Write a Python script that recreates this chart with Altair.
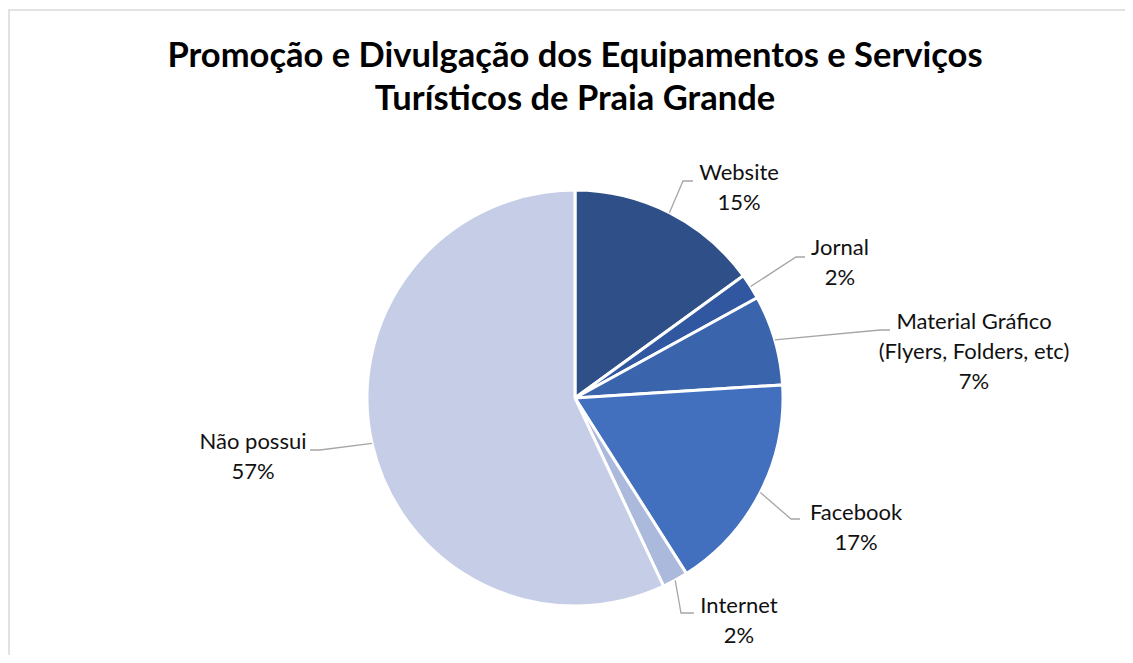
import altair as alt
import pandas as pd
import numpy as np

# ---------------- data ----------------
categories = ["Website", "Jornal", "Material Gráfico\n(Flyers, Folders, etc)",
              "Facebook", "Internet", "Não possui"]
values = [15, 2, 7, 17, 2, 57]
slice_colors = ["#2E4F87", "#3157A0", "#3A64AC", "#4270BF", "#ABB9DD", "#C6CEE7"]
title_lines = ["Promoção e Divulgação dos Equipamentos e Serviços",
               "Turísticos de Praia Grande"]

# ---------------- layout (pixel space centred on the pie, y up) ----------------
W, H = 1117, 647
CX, CY = 567, 390           # pie centre inside the plot area
R = 208
XS = alt.Scale(domain=[-CX, W - CX], range=[0, W], nice=False, zero=False)
YS = alt.Scale(domain=[CY - H, CY], range=[H, 0], nice=False, zero=False)

# leader line elbow / end, and label position (centre x, first line y)
LABEL_LAYOUT = {
    "Website":     dict(elbow=(108, 217), end=(118, 217), text=(164, 225)),
    "Jornal":      dict(elbow=(221, 141), end=(230, 141), text=(265, 150)),
    "Material":    dict(elbow=(305, 68),  end=(315, 68),  text=(399, 76)),
    "Facebook":    dict(elbow=(216, -121), end=(225, -121), text=(281, -115)),
    "Internet":    dict(elbow=(106, -215), end=(119, -215), text=(164, -208)),
    "Não possui":  dict(elbow=(-255, -52), end=(-265, -52), text=(-322, -44)),
}
layout_keys = ["Website", "Jornal", "Material", "Facebook", "Internet", "Não possui"]

pie_df = pd.DataFrame({"cat": categories, "value": values,
                       "order": list(range(len(values)))})

cum = np.cumsum(values)
tot = float(sum(values))
line_rows, label_rows = [], []
for i, (c, v) in enumerate(zip(categories, values)):
    mid = (cum[i] - v / 2) / tot * 2 * np.pi
    ex, ey = R * np.sin(mid), R * np.cos(mid)
    lay = LABEL_LAYOUT[layout_keys[i]]
    pts = [(ex, ey), lay["elbow"], lay["end"]]
    for k, (px, py) in enumerate(pts):
        line_rows.append({"cat": c, "k": k, "x": px, "y": py})
    pct = round(v / tot * 100)
    label_rows.append({"cat": c, "x": lay["text"][0], "y": lay["text"][1],
                       "label": f"{c}\n{pct}%"})
lines_df = pd.DataFrame(line_rows)
labels_df = pd.DataFrame(label_rows)

title_df = pd.DataFrame({"x": [0], "y": [341], "t": ["\n".join(title_lines)]})
border_df = pd.DataFrame({"x": [-566, -566, W - CX], "y": [CY - H, CY - 2, CY - 2],
                          "k": [0, 1, 2]})

pie = alt.Chart(pie_df).mark_arc(outerRadius=R, stroke="white", strokeWidth=3).encode(
    theta=alt.Theta("value:Q", stack=True),
    order=alt.Order("order:Q"),
    color=alt.Color("cat:N", scale=alt.Scale(domain=categories, range=slice_colors),
                    legend=None),
    x=alt.datum(0, scale=XS, axis=None),
    y=alt.datum(0, scale=YS, axis=None),
)

leaders = alt.Chart(lines_df).mark_line(color="#A6A6A6", strokeWidth=1.3).encode(
    x=alt.X("x:Q", scale=XS, axis=None),
    y=alt.Y("y:Q", scale=YS, axis=None),
    detail="cat:N",
    order="k:Q",
)

labels = alt.Chart(labels_df).mark_text(
    font="Lato", fontSize=22, color="#111111", align="center", baseline="middle",
    lineBreak="\n", lineHeight=30,
).encode(
    x=alt.X("x:Q", scale=XS, axis=None),
    y=alt.Y("y:Q", scale=YS, axis=None),
    text="label:N",
)

title = alt.Chart(title_df).mark_text(
    font="Lato", fontSize=34.5, fontWeight="bold", color="#000000", align="center",
    baseline="middle", lineBreak="\n", lineHeight=43,
).encode(
    x=alt.X("x:Q", scale=XS, axis=None),
    y=alt.Y("y:Q", scale=YS, axis=None),
    text="t:N",
)

border = alt.Chart(border_df).mark_line(color="#D9D9D9", strokeWidth=1.5).encode(
    x=alt.X("x:Q", scale=XS, axis=None),
    y=alt.Y("y:Q", scale=YS, axis=None),
    order="k:Q",
)

chart = alt.layer(border, pie, leaders, labels, title).properties(
    width=W, height=H, padding=0, autosize=alt.AutoSizeParams(type="none"),
).configure_view(stroke=None)

chart.save("out.html", embed_options={"renderer": "svg", "actions": False})
